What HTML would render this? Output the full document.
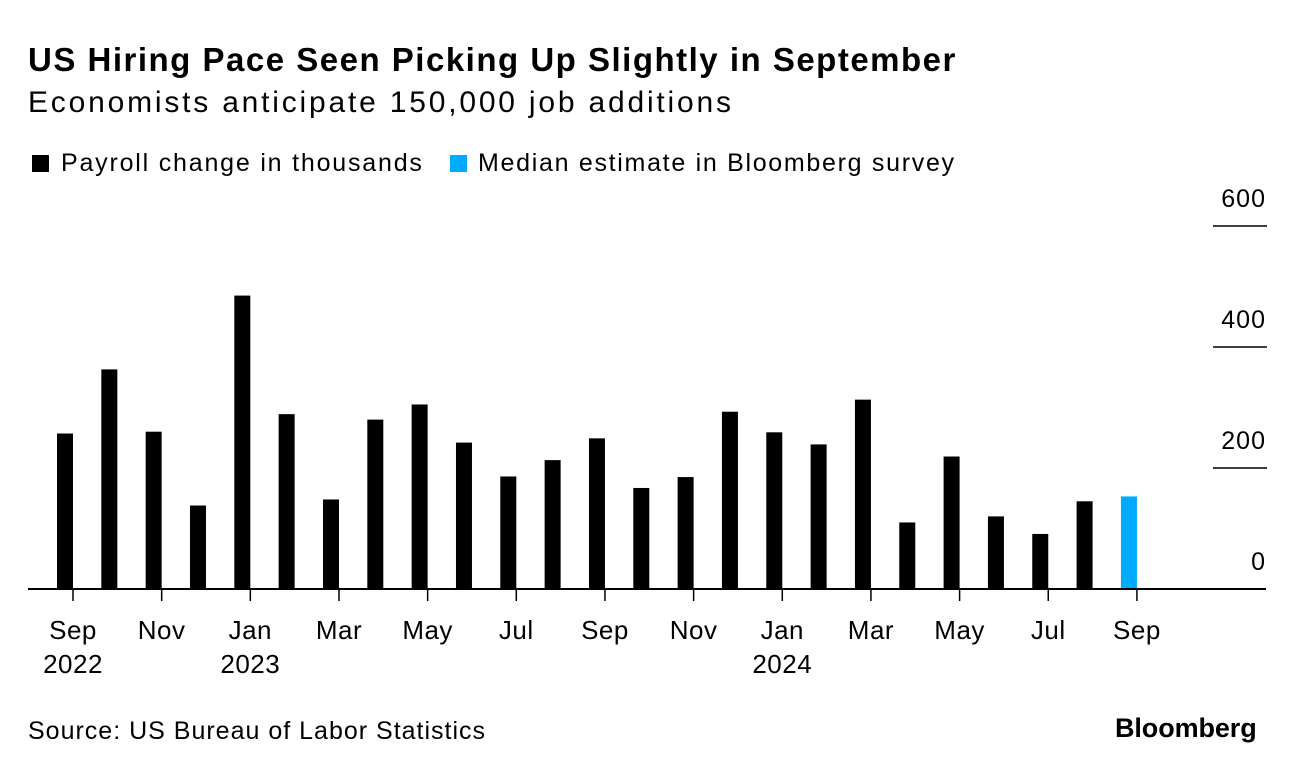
<!DOCTYPE html>
<html><head><meta charset="utf-8"><style>
body{margin:0;background:#fff;width:1296px;height:774px;overflow:hidden;font-family:"Liberation Sans",sans-serif;color:#000}
.t{position:absolute;white-space:nowrap}
</style></head><body>
<div class="t" style="left:28px;top:41px;font-size:33px;font-weight:bold;letter-spacing:1.5px">US Hiring Pace Seen Picking Up Slightly in September</div>
<div class="t" style="left:28px;top:86px;font-size:30px;letter-spacing:2.8px">Economists anticipate 150,000 job additions</div>
<div class="t" style="left:32px;top:149px;font-size:25px;letter-spacing:1.8px"><span style="display:inline-block;width:17px;height:17px;background:#000;margin-right:12px;vertical-align:-1px"></span>Payroll change in thousands</div>
<div class="t" style="left:450px;top:149px;font-size:25px;letter-spacing:1.7px"><span style="display:inline-block;width:17px;height:17px;background:#00aaff;margin-right:11px;vertical-align:-1px"></span>Median estimate in Bloomberg survey</div>
<svg id="c" width="1296" height="774" style="position:absolute;left:0;top:0"></svg>
<div class="t" style="left:28px;top:717px;font-size:25px;letter-spacing:1px">Source: US Bureau of Labor Statistics</div>
<div class="t" style="left:1115px;top:713px;font-size:27px;font-weight:bold;letter-spacing:-0.1px">Bloomberg</div>
<script>
const values=[257,363,260,138,485,289,148,280,305,242,186,213,249,167,185,293,259,239,313,110,219,120,91,145,153];
const estimateFlags=[0,0,0,0,0,0,0,0,0,0,0,0,0,0,0,0,0,0,0,0,0,0,0,0,1];
const yTicks=[0,200,400,600];
const xTickLabels=["Sep","Nov","Jan","Mar","May","Jul","Sep","Nov","Jan","Mar","May","Jul","Sep"];
const xYearLabels={0:"2022",4:"2023",16:"2024"};
const NS="http://www.w3.org/2000/svg";
const svg=document.getElementById('c');
const y0=589,pxPer=121/200;
const y=v=>y0-v*pxPer;
const tickX=i=>73+i*44.33;
function mk(t,a){const e=document.createElementNS(NS,t);for(const k in a)e.setAttribute(k,a[k]);svg.appendChild(e);return e;}
yTicks.forEach(v=>{
  if(v>0){const l=mk('line',{x1:1213,x2:1267,y1:y(v),y2:y(v),stroke:'#000','stroke-width':1.5});
  
  }
  const t=mk('text',{x:1266,y:y(v)-19,'text-anchor':'end','font-size':25,'font-family':'Liberation Sans, sans-serif','letter-spacing':1});
  t.textContent=v;
  
  
});
values.forEach((v,i)=>{
  const r=mk('rect',{x:tickX(i)-16,y:y(v),width:16,height:v*pxPer,fill:estimateFlags[i]?'#00aaff':'#000'});
  
  
});
const ax=mk('line',{x1:28,x2:1266,y1:y0,y2:y0,stroke:'#000','stroke-width':2});


xTickLabels.forEach((lab,k)=>{
  const m=k*2;
  const x=tickX(m);
  const tk=mk('line',{x1:x,x2:x,y1:y0,y2:y0+12,stroke:'#000','stroke-width':1.5});
  
  
  const t=mk('text',{x:x,y:639,'text-anchor':'middle','font-size':26,'font-family':'Liberation Sans, sans-serif','letter-spacing':0.5});
  t.textContent=lab;
  
  
  if(xYearLabels[m]){const t2=mk('text',{x:x,y:673,'text-anchor':'middle','font-size':26,'font-family':'Liberation Sans, sans-serif','letter-spacing':0.5});
  t2.textContent=xYearLabels[m];
  
  }
});
</script>
</body></html>
